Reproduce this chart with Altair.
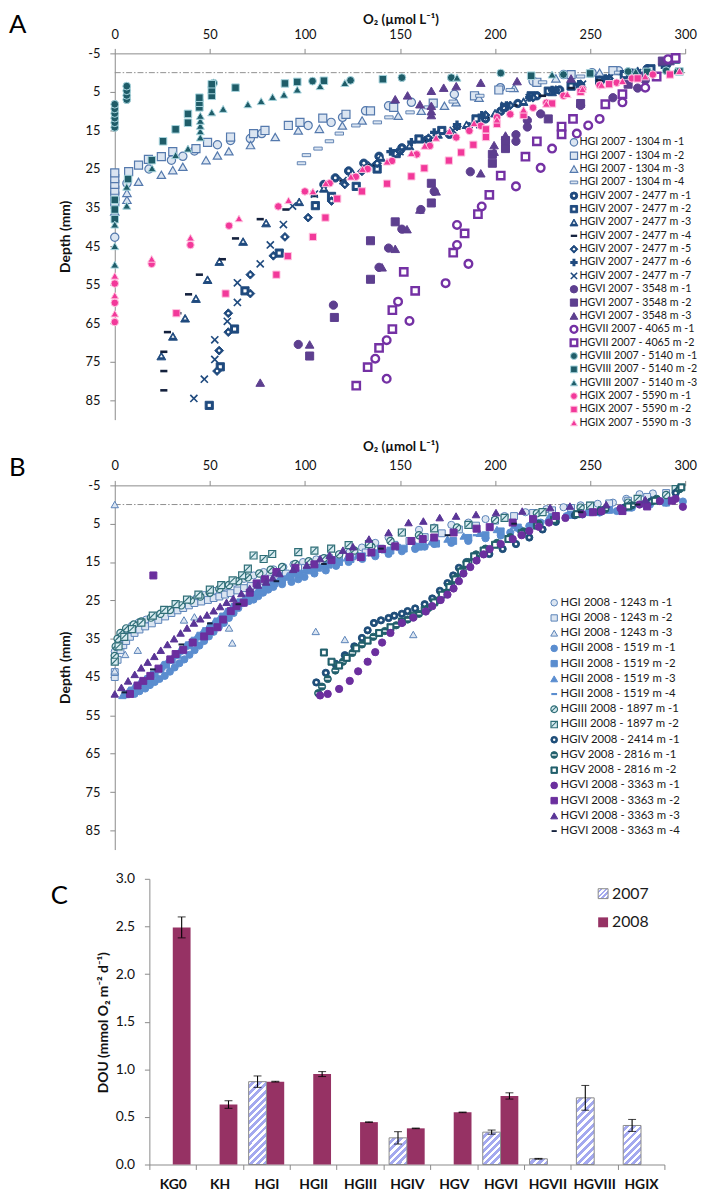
import altair as alt
import pandas as pd

FONT = "Lato"

# ================= Panel A: 2007 oxygen profiles (O2 umol/L, depth mm) =================
a_hgi_1 = [(0, 42.7), (6.4, 28.7), (18, 25.0), (29.8, 22.7), (35.8, 21.7), (41.9, 20.3), (54, 18.7), (60.9, 17.6), (71.3, 17.1), (77.3, 15.8), (101.7, 13.7), (113.8, 12.9), (119.8, 11.6), (131.9, 9.9), (144, 8.6), (156, 7.7), (178.6, 5.6), (202.8, 3.9), (220, 2.2), (236, 0.5), (251, 0.0), (265, -0.5)]
a_hgi_2 = [(0, 33.5), (0, 32.0), (0, 30.5), (0, 29.0), (0, 27.5), (0, 26.0), (7.3, 25.7), (12.5, 24.0), (17.7, 22.5), (24.5, 21.8), (30.5, 20.5), (42.7, 19.7), (48.8, 18.1), (60.9, 16.7), (73, 15.8), (79, 15.0), (91.3, 13.7), (97.4, 12.9), (109.4, 11.8), (121.6, 10.8), (134.5, 9.9), (146.7, 9.0), (167.5, 7.9), (189.2, 6.0), (202, 4.5), (222, 2.5), (240, 0.5), (262, -0.5)]
a_hgi_3 = [(0, 36.0), (6.4, 33.0), (6.4, 31.2), (12.5, 28.3), (24.5, 26.5), (30.5, 25.3), (35.8, 24.4), (48, 22.7), (54, 21.5), (60, 20.4), (71.4, 18.8), (84.4, 16.7), (96.5, 15.0), (107.6, 14.6), (119.7, 13.7), (130.1, 12.4), (149.1, 11.2), (161.2, 9.9), (173.4, 8.6), (179.5, 7.7), (191.6, 6.5), (210, 4.0), (232, 1.5), (255, 0.0)]
a_hgi_4 = [(98.2, 23.5), (100.8, 21.4), (106.9, 19.7), (112.9, 17.8), (118.1, 15.8), (126.8, 13.7), (138.1, 12.9), (144.2, 11.6), (155.3, 10.3), (165, 9.0), (178, 7.5), (192, 6.0), (208, 4.5), (225, 2.5), (245, 1.0), (265, 0.0)]
a_hgiv_1 = [(292, -3.0), (280, -1.0), (268, 0.5), (255, 2.0), (245, 3.5), (234, 4.5), (222, 6.0), (212, 8.0), (203, 10.0), (195, 12.0), (186, 14.0), (176, 16.0), (164, 17.5), (151, 19.5), (139, 21.7), (131, 23.5), (123, 25.5), (116, 27.3), (110, 29.0)]
a_hgiv_2 = [(295, -3.5), (282, -1.0), (268, 0.5), (255, 2.0), (240, 3.5), (228, 4.8), (219, 6.0), (205, 9.0), (190, 12.0), (172, 15.0), (160, 17.2), (148, 21.0), (138, 25.0), (127, 29.5), (114, 32.1), (105.5, 34.5), (86.5, 46.8), (68.5, 56.6), (63, 66.5), (55.5, 76.3), (49.7, 86.3)]
a_hgiv_3 = [(290, -2.5), (275, -0.5), (260, 1.5), (245, 3.0), (230, 5.0), (215, 7.5), (200, 10.5), (185, 13.5), (170, 16.0), (155, 19.0), (140, 22.0), (125, 26.0), (110, 30.0), (97, 33.5), (79.6, 39.0), (67.5, 43.8), (55, 49.0), (48.8, 53.7), (42.7, 58.6), (37, 63.7), (30.6, 68.4), (24.5, 73.5)]
a_hgiv_4 = [(290, -2.0), (270, 0.0), (255, 2.0), (240, 4.0), (225, 6.0), (210, 8.5), (195, 11.5), (180, 14.5), (165, 17.5), (150, 20.5), (135, 24.0), (120, 28.0), (105, 32.0), (90, 35.5), (76.5, 38.0), (63.5, 43.0), (56.6, 48.4), (44.5, 52.4), (38.8, 57.5), (33.2, 62.4), (27.7, 67.3), (25.8, 72.4), (25.8, 77.4), (25.8, 82.4)]
a_hgiv_5 = [(290, -2.0), (275, 0.0), (260, 1.5), (245, 3.0), (232, 4.5), (220, 6.5), (208, 8.5), (195, 11.0), (180, 14.0), (165, 17.0), (150, 20.5), (138, 23.5), (130, 25.6), (121, 29.0), (114, 33.3), (101.7, 37.6), (89.5, 42.6), (83.4, 47.5), (71.3, 52.4), (71.3, 57.3), (59.7, 62.4), (59.7, 67.3), (54.9, 72.1), (53.8, 77.4)]
a_hgiv_6 = [(288, -2.0), (272, 0.0), (258, 1.5), (244, 3.0), (230, 4.5), (218, 6.5), (206, 8.5), (193, 11.0), (180, 13.5), (168, 15.5), (156, 18.0), (145, 20.5)]
a_hgiv_7 = [(290, -2.0), (275, 0.0), (260, 1.5), (246, 3.0), (232, 4.5), (218, 6.5), (205, 8.5), (192, 13.5), (178, 15.0), (165, 17.5), (150, 20.5), (135, 24.0), (120, 28.0), (105, 31.5), (93.5, 34.6), (88.7, 39.4), (81.8, 44.7), (76.5, 49.6), (64.5, 54.5), (64.5, 59.6), (59.2, 64.5), (52.6, 69.3), (52.6, 74.4), (47.1, 79.5), (41.6, 84.5)]
a_hgvi_1 = [(293, -3.5), (279, 2.0), (275, 4.0), (262, 6.5), (245, 8.5), (224, 10.7), (217, 12.4), (217, 14.1), (211, 16.1), (211, 17.8), (187, 25.7), (168, 30.8), (161, 35.5), (151, 40.6), (144, 45.5), (139, 50.5), (115, 60.3), (96.5, 70.5)]
a_hgvi_2 = [(288, -3.0), (270, 3.0), (245, 8.0), (228, 12.0), (205.5, 17.6), (205.5, 19.7), (198.6, 21.2), (198.6, 23.5), (166.5, 28.7), (166.5, 33.8), (147.5, 38.7), (134.5, 43.6), (134.5, 53.6), (115.5, 63.5), (102.5, 73.5)]
a_hgvi_3 = [(292, -3.0), (278, 0.5), (240, 1.5), (211.6, 2.2), (192.5, 2.6), (179.6, 3.5), (173, 3.9), (166.5, 4.7), (154, 5.9), (147.5, 6.9), (160.5, 8.2), (166.5, 8.6), (166.5, 10.0), (166.5, 11.0), (205.5, 16.3), (199.5, 18.8), (199.5, 20.5), (192.5, 26.1), (169, 30.8), (160.5, 35.5), (153.7, 40.6), (147.5, 45.7), (140.6, 50.5), (102.5, 70.5), (76.5, 80.4)]
a_hgvii_1 = [(291, -3.5), (279, 3.9), (267, 7.7), (255, 12.0), (249, 13.7), (243, 15.8), (230, 19.7), (224, 24.7), (211, 29.5), (193, 34.7), (180, 39.5), (180, 44.7), (186, 49.6), (174, 54.6), (149, 59.4), (155, 64.4), (143, 69.4), (137, 74.2), (143, 79.4)]
a_hgvii_2 = [(295, -3.8), (285, 1.0), (267, 5.6), (258, 8.2), (241, 12.0), (235, 14.0), (235, 16.0), (222, 17.8), (216, 21.8), (203, 26.7), (197, 31.7), (191, 36.7), (184, 41.7), (178, 46.7), (152, 51.7), (158, 56.6), (146, 61.6), (146, 66.5), (139, 71.4), (133, 76.4), (127, 81.2)]
a_hgviii_1 = [(0, 14.2), (0, 13.0), (0, 11.8), (0, 10.6), (0, 9.4), (0, 8.2), (6.3, 7.0), (6.3, 5.9), (6.3, 4.7), (6.3, 3.5), (52, 2.7), (104, 2.2), (124, 2.0), (151, 1.3), (177, 1.3), (203, 0.1), (236, 0.5), (250, 0.3), (270, -0.3), (290, -0.5)]
a_hgviii_2 = [(0, 38.0), (0, 35.5), (0, 33.0), (7, 27.6), (19.5, 22.7), (25.4, 17.8), (32, 14.7), (38.5, 13.0), (38.5, 10.7), (44.5, 9.0), (44.5, 7.8), (44.5, 6.5), (51, 6.0), (51, 4.5), (51, 3.0), (63.5, 3.9), (89.5, 2.8), (96, 2.4), (110, 2.1), (141, 1.7), (219, 0.8), (250, 0.2), (280, -0.2), (297, -0.3)]
a_hgviii_3 = [(0, 49.8), (0, 45.0), (0, 39.4), (6.3, 34.5), (6.3, 29.6), (19.6, 24.8), (32, 21.4), (38.5, 19.7), (45, 16.8), (45, 15.2), (45, 13.8), (45, 12.5), (45, 11.2), (51, 10.3), (57, 9.4), (70, 8.2), (77, 7.4), (83, 6.3), (89, 5.7), (96, 4.4), (108, 3.5), (121, 2.7), (180, 1.3), (230, 0.5), (274, -0.3), (295, -0.4)]
a_hgix_1 = [(0, 64.7), (0, 59.7), (0, 54.7), (19.4, 49.6), (39.8, 44.7), (60.1, 39.7), (86, 34.7), (100, 30.8), (113, 28.7), (126.8, 27.0), (133, 25.0), (145.8, 22.9), (158.8, 21.2), (165.7, 19.0), (179.6, 16.8), (186.5, 15.1), (192.5, 13.8), (201, 11.6), (208, 10.8), (220, 9.1), (227, 7.8), (236, 6.0), (246, 4.3), (255, 3.3), (264, 2.6), (272, 1.5), (283, 0.5)]
a_hgix_2 = [(32.4, 62.4), (58.3, 57.3), (85, 52.4), (91, 47.6), (104.2, 42.6), (110.8, 37.6), (117, 32.7), (130, 30.8), (143.2, 28.8), (156, 26.9), (162.8, 24.8), (175.7, 22.8), (182.2, 20.7), (188.6, 18.7), (195.2, 16.7), (195.2, 14.7), (201, 13.3), (215, 11.0), (230, 8.0), (245, 5.0), (260, 3.0), (275, 1.5), (292, 0.5)]
a_hgix_3 = [(0, 62.5), (0, 57.8), (0, 52.7), (19.4, 48.3), (39.8, 42.8), (65.3, 37.8), (91.4, 33.1), (104.2, 30.8), (111, 28.7), (124.2, 27.0), (130.3, 25.0), (143.2, 23.1), (156, 20.9), (163, 19.0), (169, 16.9), (176, 15.2), (189, 13.1), (201, 12.2), (215, 9.6), (227, 8.1), (238, 5.6), (246, 4.3), (256, 3.2), (267, 2.2), (279, 1.0), (297, -0.4)]

A_NAMES = [
    "HGI 2007 - 1304 m -1", "HGI 2007 - 1304 m -2", "HGI 2007 - 1304 m -3", "HGI 2007 - 1304 m -4",
    "HGIV 2007 - 2477 m -1", "HGIV 2007 - 2477 m -2", "HGIV 2007 - 2477 m -3", "HGIV 2007 - 2477 m -4",
    "HGIV 2007 - 2477 m -5", "HGIV 2007 - 2477 m -6", "HGIV 2007 - 2477 m -7",
    "HGVI 2007 - 3548 m -1", "HGVI 2007 - 3548 m -2", "HGVI 2007 - 3548 m -3",
    "HGVII 2007 - 4065 m -1", "HGVII 2007 - 4065 m -2",
    "HGVIII 2007 - 5140 m -1", "HGVIII 2007 - 5140 m -2", "HGVIII 2007 - 5140 m -3",
    "HGIX 2007 - 5590 m -1", "HGIX 2007 - 5590 m -2", "HGIX 2007 - 5590 m -3",
]
A_SERIES = [a_hgi_1, a_hgi_2, a_hgi_3, a_hgi_4, a_hgiv_1, a_hgiv_2, a_hgiv_3, a_hgiv_4, a_hgiv_5,
            a_hgiv_6, a_hgiv_7, a_hgvi_1, a_hgvi_2, a_hgvi_3, a_hgvii_1, a_hgvii_2, a_hgviii_1,
            a_hgviii_2, a_hgviii_3, a_hgix_1, a_hgix_2, a_hgix_3]

# ================= Panel B: 2008 oxygen profiles =================
b_hgi_1 = [(0, 40.4), (0, 39.3), (0, 38.3), (1, 37.2), (2, 36.0), (3, 35.0), (4, 34.0), (6, 32.6), (9, 31.6), (12.5, 30.8), (16.5, 30.0), (21, 29.2), (25.5, 28.4), (29.8, 27.5), (34, 26.4), (38.5, 25.3), (43, 24.4), (47.1, 23.6), (52, 22.5), (57.5, 21.5), (63, 20.4), (68, 19.4), (73, 18.5), (78.3, 17.6), (83.5, 16.9), (88.7, 16.3), (94, 15.6), (99, 15.0), (106, 14.3), (113, 13.7), (118, 13.0), (123.5, 12.4), (130, 11.2), (137, 10.0), (144, 8.6), (151, 7.3), (160, 6.6), (168, 6.0), (177, 5.3), (186, 4.7), (195, 3.8), (205, 3.0), (216, 2.0), (227, 1.2), (236, 0.7), (245, 0.2), (254, -0.2), (262, -0.5), (269, -1.5), (276, -2.7), (283, -2.9)]
b_hgi_2 = [(0, 45.0), (0, 43.7), (1.5, 40.5), (3, 38.0), (4.5, 36.7), (6, 35.6), (8, 34.5), (10.4, 33.5), (13, 32.6), (16, 31.8), (19.5, 31.0), (22.9, 30.1), (26.5, 29.2), (29.8, 28.3), (33, 27.6), (36, 27.0), (39, 26.3), (41.9, 25.7), (45.5, 25.3), (49, 24.9), (52, 24.4), (55, 24.0), (58, 23.5), (60.9, 23.1), (64.5, 22.4), (68, 21.8), (71.5, 21.2), (74.8, 20.6), (78.5, 19.9), (82, 19.3), (86, 18.6), (90, 18.0), (95, 17.2), (100, 16.5), (106, 15.7), (112, 15.0), (118, 14.2), (125, 13.5), (132, 12.5), (140, 11.5), (147, 10.5), (155, 9.5), (163, 8.5), (172, 7.5), (181, 6.5), (190, 5.5), (200, 4.2), (210, 3.0), (220, 2.2), (230, 1.5), (240, 0.9), (250, 0.3), (260, -0.3), (270, -1.0), (280, -2.0), (290, -3.0)]
b_hgi_3 = [(0, 0.0), (0, 43.4), (5.5, 39.1), (12.1, 38.0), (36.4, 30.1), (41.9, 29.3), (60.1, 32.2), (61.8, 36.1), (105.7, 33.1), (121, 35.2), (157, 33.9)]
b_hgii_1 = [(10.4, 49.4), (13, 48.7), (16, 48.0), (18.5, 47.1), (21, 46.3), (23.5, 45.5), (26.3, 44.7), (29, 43.6), (31.5, 42.5), (34, 41.4), (36.6, 40.4), (39.3, 39.2), (42, 38.0), (44.5, 36.8), (47, 35.6), (49.5, 34.4), (52, 33.2), (54.7, 32.0), (57.4, 30.9), (60, 29.6), (62.5, 28.3), (65, 27.0), (67.8, 25.7), (70.5, 25.2), (73, 24.8), (75.5, 23.9), (78, 23.0), (80.7, 22.2), (83.4, 21.5), (88, 20.8), (92.9, 20.2), (96.5, 19.5), (99.8, 18.9), (105, 18.0), (111, 17.2), (116.4, 16.0), (123, 15.0), (130.2, 14.2), (137, 13.5), (144, 12.9), (151, 12.2), (158, 11.6), (163, 11.0), (168, 10.3), (177, 10.0), (185.9, 9.5), (195, 8.8), (203, 8.1), (208, 7.3), (213, 6.5), (218, 5.6), (224, 4.7), (231, 3.8), (237.6, 3.0), (246, 2.6), (255, 2.1), (264, 1.7), (272, 0.8), (281.5, 0.0), (290, -0.5), (298.8, -0.8)]
b_hgii_2 = [(6, 49.5), (9, 48.5), (12, 47.5), (15, 46.5), (18, 45.5), (21, 44.3), (24, 43.0), (27, 41.8), (30, 40.5), (33, 39.2), (36, 38.0), (39, 36.7), (42, 35.5), (45, 34.2), (48, 33.0), (51, 31.7), (54, 30.5), (57, 29.2), (60, 28.0), (63, 26.7), (66, 25.5), (69.5, 24.5), (73, 23.5), (76.5, 22.5), (80, 21.5), (84, 20.5), (88, 19.5), (92.5, 18.7), (97, 18.0), (102, 17.2), (107, 16.5), (112.5, 15.7), (118, 15.0), (124, 14.2), (130, 13.5), (137, 12.7), (145, 12.0), (152, 11.5), (160, 11.0), (169, 10.2), (178, 9.5), (186, 8.7), (195, 8.0), (203, 7.0), (212, 6.0), (221, 4.7), (230, 3.5), (240, 2.7), (250, 2.0), (260, 1.4), (270, 0.8), (280, 0.2), (290, -0.5)]
b_hgii_3 = [(4, 49.8), (7, 48.7), (10, 47.6), (13, 46.5), (16, 45.4), (19, 44.2), (22, 43.0), (25, 41.8), (28, 40.6), (31, 39.4), (34, 38.2), (37, 36.9), (40, 35.7), (43, 34.5), (46, 33.3), (49, 32.0), (52, 30.8), (55, 29.6), (58, 28.4), (61, 27.2), (64, 26.0), (67.5, 24.9), (71, 23.8), (74.5, 22.8), (78, 21.8), (82, 20.8), (86, 19.8), (90.5, 18.9), (95, 18.0), (100, 17.1), (105, 16.3), (110.5, 15.5), (116, 14.7), (122, 13.9), (128, 13.2), (135, 12.5), (142, 11.8), (150, 11.1), (158, 10.5), (166.5, 9.7), (175, 9.0), (183.5, 8.2), (192, 7.5), (201, 6.5), (210, 5.5), (219, 4.5), (228, 3.5), (238, 2.7), (248, 2.0), (258, 1.2), (268, 0.5), (278, -0.2), (288, -1.0)]
b_hgii_4 = [(10, 49.0), (25, 43.0), (40, 36.0), (55, 30.0), (70, 24.5), (90, 19.5), (110, 16.5), (135, 13.0), (160, 10.5), (190, 8.0), (220, 5.0), (250, 2.0), (280, 0.0)]
b_hgiii_1 = [(0, 39.5), (0.5, 37.0), (1.5, 35.0), (3, 33.5), (6, 32.3), (10, 31.3), (14, 30.5), (19, 29.5), (24, 28.5), (29, 27.5), (35, 26.3), (40, 25.0), (45, 24.0), (50, 23.0), (55, 22.0), (60, 21.0), (65, 20.0), (70, 19.0), (76, 18.0), (82, 17.0), (88, 16.3), (95, 15.5), (102, 14.8), (110, 14.0), (118, 13.0), (126, 12.0), (135, 11.0), (145, 9.5), (160, 8.0), (180, 6.0), (200, 4.0), (222, 2.3), (245, 0.8), (270, -0.5), (290, -2.5)]
b_hgiii_2 = [(0, 41.0), (2, 37.0), (5, 34.5), (9, 32.5), (14, 30.8), (20, 29.0), (26, 27.5), (32, 26.0), (38, 24.8), (44, 23.5), (50, 22.2), (56, 21.0), (62, 19.8), (67, 18.5), (70, 16.7), (73, 13.3), (78.3, 14.2), (82.8, 12.9), (96.5, 12.4), (105, 12.0), (113.8, 11.5), (123, 10.6), (133.7, 10.3), (151, 7.3), (168, 6.2), (186, 5.3), (205, 3.5), (225, 2.0), (250, 0.3), (275, -1.5), (295, -4.0)]
b_hgiv_1 = [(106, 46.4), (111, 43.9), (116, 41.5), (121, 39.3), (126, 37.0), (130, 34.8), (133, 32.8), (136.3, 30.9), (140, 30.2), (144, 29.6), (147, 29.0), (151, 28.5), (154, 27.8), (158, 27.1), (163, 26.0), (167, 24.5), (171, 22.5), (175, 20.5), (178, 18.5), (181, 16.5), (185, 15.0), (190, 14.0), (197, 12.9), (204, 11.6), (211, 10.3), (218, 8.6), (225, 6.5), (232, 4.5), (242, 2.8), (255, 1.8), (268, 0.8), (282, -0.8), (295, -3.0)]
b_hgv_1 = [(107, 49.2), (109, 47.5), (112, 45.5), (116, 43.3), (120, 41.0), (125, 38.7), (130, 36.5), (136, 34.5), (142, 33.0), (148, 31.5), (154, 30.0), (160, 28.5), (165, 27.0), (170, 25.0), (174, 23.0), (177, 21.0), (180, 19.0), (183, 17.0), (186, 15.0), (190, 13.0), (195, 11.5), (201, 10.0), (208, 8.5), (215, 7.0), (223, 5.0), (232, 3.5), (245, 2.2), (258, 1.2), (272, 0.2), (285, -1.5), (297, -4.0)]
b_hgv_2 = [(110, 38.6), (114, 41.0), (118, 42.0), (122, 40.0), (127, 37.5), (133, 35.5), (139, 33.5), (145, 32.0), (151, 30.5), (157, 29.0), (163, 27.5), (168, 25.5), (172, 23.5), (176, 21.5), (179, 19.5), (182, 17.5), (185, 15.5), (189, 13.5), (194, 12.0), (200, 10.5), (207, 9.0), (214, 7.5), (222, 5.5), (231, 4.0), (243, 2.5), (256, 1.5), (270, 0.5), (284, -1.0), (298, -4.5)]
b_hgvi_1 = [(108, 49.8), (112, 49.4), (118, 48.1), (123.6, 46.0), (128, 43.5), (133, 41.0), (137, 38.5), (140.6, 36.0), (145, 33.5), (151, 30.9), (157, 29.5), (163.6, 27.9), (167, 26.5), (171.4, 24.9), (175, 23.5), (178.2, 21.9), (181, 20.0), (183.4, 18.0), (187, 16.3), (190.3, 14.6), (194, 13.0), (197.2, 11.6), (203, 10.3), (209.3, 9.0), (214, 8.0), (218, 6.9), (223, 5.8), (228.4, 4.7), (237, 3.5), (246, 2.5), (256, 1.8), (266, 1.0), (276, 0.0), (286.7, -0.9), (295, -1.5), (298.8, 0.6)]
b_hgvi_2 = [(20.3, 18.5), (8, 49.4), (12, 47.2), (15, 46.0), (18.7, 44.7), (23, 42.8), (29.2, 40.4), (32, 39.0), (36, 37.9), (41, 36.0), (47, 34.4), (50, 33.0), (54, 32.0), (57, 30.0), (61, 27.8), (64, 26.5), (67.8, 25.6), (71, 23.0), (74.6, 20.6), (79, 19.5), (85, 17.6), (95, 16.5), (105, 15.6), (114, 14.5), (123.5, 13.7), (129.4, 13.7), (135, 12.5), (140.6, 11.6), (147.5, 10.9), (156, 9.5), (162, 9.0), (168, 8.6), (178.2, 7.3), (190.3, 6.3), (197.2, 5.9), (209.3, 4.7), (220, 3.8), (232, 3.0), (251.5, 2.0), (267, 1.7), (280, 0.5), (293, -1.0)]
b_hgvi_3 = [(0, 49.4), (3.5, 47.7), (7, 46.0), (10.5, 44.3), (13.9, 42.6), (17.3, 41.1), (20.8, 39.6), (24.2, 38.0), (27.7, 36.5), (31.2, 35.0), (34.6, 33.5), (38, 32.2), (41.6, 30.9), (45, 29.8), (48.5, 28.8), (52, 27.7), (55.4, 26.6), (58.8, 25.5), (62.3, 24.5), (66.6, 23.2), (71, 21.9), (75.3, 21.0), (79.6, 20.2), (83, 19.1), (86.6, 18.0), (93.8, 16.9), (101, 15.8), (108, 14.1), (113, 13.2), (120, 11.9), (125.3, 11.0), (133.7, 9.0), (144, 7.3), (154.5, 4.7), (162.3, 4.3), (170.9, 3.4), (179.5, 3.0), (190, 2.6), (200.5, 2.1), (214.3, 1.7), (229, 0.8), (239.4, 0.4), (258.5, 0.0), (279, -1.3)]
b_hgvi_4 = [(5, 49.0), (20, 43.0), (35, 36.5), (50, 31.0), (65, 26.0), (85, 20.0), (110, 15.5), (140, 11.5), (175, 8.0), (210, 5.0), (245, 2.0), (275, 0.0)]

B_NAMES = [
    "HGI 2008 - 1243 m -1", "HGI 2008 - 1243 m -2", "HGI 2008 - 1243 m -3",
    "HGII 2008 - 1519 m -1", "HGII 2008 - 1519 m -2", "HGII 2008 - 1519 m -3", "HGII 2008 - 1519 m -4",
    "HGIII 2008 - 1897 m -1", "HGIII 2008 - 1897 m -2",
    "HGIV 2008 - 2414 m -1",
    "HGV 2008 - 2816 m -1", "HGV 2008 - 2816 m -2",
    "HGVI 2008 - 3363 m -1", "HGVI 2008 - 3363 m -2", "HGVI 2008 - 3363 m -3", "HGVI 2008 - 3363 m -4",
]
B_SERIES = [b_hgi_1, b_hgi_2, b_hgi_3, b_hgii_1, b_hgii_2, b_hgii_3, b_hgii_4, b_hgiii_1, b_hgiii_2,
            b_hgiv_1, b_hgv_1, b_hgv_2, b_hgvi_1, b_hgvi_2, b_hgvi_3, b_hgvi_4]

# ================= Panel C: diffusive oxygen uptake =================
CATS = ["KG0", "KH", "HGI", "HGII", "HGIII", "HGIV", "HGV", "HGVI", "HGVII", "HGVIII", "HGIX"]
DOU_2007 = [None, None, 0.87, None, None, 0.28, None, 0.34, 0.06, 0.70, 0.41]
ERR_2007 = [None, None, 0.06, None, None, 0.065, None, 0.022, 0.004, 0.13, 0.063]
DOU_2008 = [2.49, 0.63, 0.87, 0.95, 0.445, 0.38, 0.548, 0.72, None, None, None]
ERR_2008 = [0.11, 0.04, 0.004, 0.026, 0.003, 0.003, 0.003, 0.033, None, None, None]
YEARS = ["2007", "2008"]

# ================= styles =================
DASH = "M-1,-0.36L1,-0.36L1,0.36L-1,0.36Z"
XSHP = "M-1,-0.72L-0.72,-1L0,-0.28L0.72,-1L1,-0.72L0.28,0L1,0.72L0.72,1L0,0.28L-0.72,1L-1,0.72L-0.28,0Z"
HATCH = "M-0.95,0.55L0.55,-0.95L0.78,-0.72L-0.72,0.78Z"
BAND = "M-1,-0.28L1,-0.28L1,0.28L-1,0.28Z"

LIGHT, EDGE = "#dbe5f1", "#5479ad"
NAVY, DARK = "#1f4a7e", "#14213d"
PURP, VIOL = "#5d3f8f", "#7431a4"
TEAL, TEAL_E = "#1f5d69", "#a7d4de"
PINK, PINK_E = "#f2399a", "#ffc4e1"
EDGE2, STEEL = "#5a83b8", "#5a8dcf"
HFILL, HTEAL = "#d9ecf1", "#2f6e77"
NAVY2, TEAL2 = "#1f4e79", "#22606c"
PURP2, PURP2T = "#6b2f9e", "#5a3597"
MAROON, STRIPE, BAREDGE = "#963264", "#a4a9ef", "#8a8a8a"
AXC = "#8a8a8a"


def sty(shape, fill, stroke, size, sw, inner=None):
    return {"shape": shape, "fill": fill, "stroke": stroke, "size": size, "sw": sw, "inner": inner}


STYLE = dict(zip(A_NAMES, [
    sty("circle", LIGHT, EDGE, 70, 1.2), sty("square", LIGHT, EDGE, 66, 1.2),
    sty("triangle-up", LIGHT, EDGE, 72, 1.2), sty(DASH, LIGHT, EDGE, 72, 0.9),
    sty("circle", NAVY, NAVY, 72, 1, ("circle", "white", 8)),
    sty("square", NAVY, NAVY, 68, 1, ("square", "white", 10)),
    sty("triangle-up", NAVY, NAVY, 80, 1, ("triangle-up", "white", 10)),
    sty(DASH, DARK, DARK, 52, 0),
    sty("diamond", NAVY, NAVY, 80, 1, ("circle", "white", 7)),
    sty("cross", NAVY, NAVY, 70, 0), sty(XSHP, NAVY, NAVY, 70, 0),
    sty("circle", PURP, PURP, 70, 1), sty("square", PURP, PURP, 66, 1), sty("triangle-up", PURP, PURP, 76, 1),
    sty("circle", "white", VIOL, 60, 2.4), sty("square", "white", VIOL, 56, 2.4),
    sty("circle", TEAL, TEAL_E, 62, 1), sty("square", TEAL, TEAL_E, 58, 1), sty("triangle-up", TEAL, TEAL_E, 66, 1),
    sty("circle", PINK, PINK_E, 58, 1), sty("square", PINK, PINK_E, 54, 1), sty("triangle-up", PINK, PINK_E, 62, 1),
]))
STYLE.update(dict(zip(B_NAMES, [
    sty("circle", LIGHT, EDGE2, 52, 1), sty("square", LIGHT, EDGE2, 48, 1), sty("triangle-up", LIGHT, EDGE2, 56, 1),
    sty("circle", STEEL, STEEL, 52, 1), sty("square", STEEL, STEEL, 48, 1), sty("triangle-up", STEEL, STEEL, 56, 1),
    sty(DASH, STEEL, STEEL, 40, 0),
    sty("circle", HFILL, HTEAL, 54, 1.2, (HATCH, HTEAL, 52)),
    sty("square", HFILL, HTEAL, 50, 1.2, (HATCH, HTEAL, 48)),
    sty("circle", NAVY2, NAVY2, 54, 1, ("circle", "white", 7)),
    sty("circle", TEAL2, TEAL2, 54, 1, (BAND, "white", 26)),
    sty("square", TEAL2, TEAL2, 50, 1, ("square", "white", 14)),
    sty("circle", PURP2, PURP2, 54, 1), sty("square", PURP2, PURP2, 50, 1),
    sty("triangle-up", PURP2T, PURP2T, 58, 1), sty(DASH, DARK, DARK, 32, 0),
])))


def frame(names, series):
    rows = []
    for nm, pts in zip(names, series):
        for o2, d in pts:
            rows.append({"series": nm, "o2": o2, "depth": d})
    return pd.DataFrame(rows)


dfA = frame(A_NAMES, A_SERIES)
dfB = frame(B_NAMES, B_SERIES)
zero_line = pd.DataFrame({"o2_from": [0], "o2_to": [300], "depth": [0]})


def symbol_marks(base, s, scale=1.0):
    out = [base.mark_point(shape=s["shape"], filled=True, fill=s["fill"], stroke=s["stroke"],
                           strokeWidth=s["sw"], size=s["size"] * scale, opacity=1)]
    if s["inner"]:
        ish, ifill, isz = s["inner"]
        out.append(base.mark_point(shape=ish, filled=True, fill=ifill, strokeWidth=0, size=isz * scale, opacity=1))
    return out


def scatter(df, names, xsc, ysc):
    layers = []
    for nm in names:
        base = alt.Chart(df).transform_filter(alt.datum.series == nm).encode(
            x=alt.X("o2:Q", scale=xsc, axis=None), y=alt.Y("depth:Q", scale=ysc, axis=None))
        layers += symbol_marks(base, STYLE[nm])
    return layers


def legend(names, sx, tx, y0, y1, fsize, sscale):
    ldf = pd.DataFrame({"label": names})
    ysc = alt.Scale(type="point", domain=names, range=[y0, y1], padding=0)
    layers = []
    for nm in names:
        base = alt.Chart(ldf).transform_filter(alt.datum.label == nm).encode(
            x=alt.value(sx), y=alt.Y("label:N", scale=ysc, axis=None))
        layers += symbol_marks(base, STYLE[nm], sscale)
    layers.append(alt.Chart(ldf).mark_text(align="left", baseline="middle", fontSize=fsize, font=FONT,
                                           color="#1a1a1a").encode(
        x=alt.value(tx), y=alt.Y("label:N", scale=ysc, axis=None), text="label:N"))
    return layers


def depth_axis(title_y):
    return alt.Axis(orient="left", offset=-108, values=list(range(-5, 90, 10)), labelExpr="'' + datum.value",
                    tickSize=5, labelPadding=10, labelFontSize=13, title="Depth (mm)", titleFontSize=14,
                    titleFontWeight="bold", titleX=-50, titleY=title_y, titleAngle=270, titleAlign="center",
                    titleBaseline="middle", grid=False, labelOverlap=False)


def o2_axis(offset, title_y, pad):
    return alt.Axis(orient="top", offset=offset, values=[0, 50, 100, 150, 200, 250, 300], tickSize=5,
                    labelPadding=pad, labelFontSize=13, labelFlush=False, labelOverlap=False,
                    title="O₂ (µmol L⁻¹)", titleFontSize=13.5, titleFontWeight="bold", titleX=397,
                    titleY=title_y, titleAlign="center", titleBaseline="middle", grid=False)


def axes_rule(xsc, ysc, xaxis, yaxis):
    return alt.Chart(zero_line).mark_rule(color="#8f8f8f", strokeWidth=1, strokeDash=[6, 2, 1.5, 2]).encode(
        x=alt.X("o2_from:Q", scale=xsc, axis=xaxis), x2="o2_to:Q",
        y=alt.Y("depth:Q", scale=ysc, axis=yaxis))


layers = []

# ---- panel A ----
xA = alt.Scale(domain=[0, 300], range=[108, 685], nice=False, zero=False)
yA = alt.Scale(domain=[-5, 90], range=[39, 409.5], nice=False, zero=False)
layers.append(axes_rule(xA, yA, o2_axis(-39, -34, 7), depth_axis(224)))
layers += scatter(dfA, A_NAMES, xA, yA)
layers += legend(A_NAMES, 572.5, 578, 129, 412.7, 10.8, 0.8)

# ---- panel B ----
xB = alt.Scale(domain=[0, 300], range=[108, 685], nice=False, zero=False)
yB = alt.Scale(domain=[-5, 90], range=[476, 844.4], nice=False, zero=False)
layers.append(axes_rule(xB, yB, o2_axis(-476, -39, 8), depth_axis(660)))
layers += scatter(dfB, B_NAMES, xB, yB)
layers += legend(B_NAMES, 552.5, 559, 594.7, 825.7, 11.5, 0.85)

# ---- panel C ----
rows = []
for i, c in enumerate(CATS):
    for yr, vals, errs in (("2007", DOU_2007, ERR_2007), ("2008", DOU_2008, ERR_2008)):
        if vals[i] is None:
            continue
        rows.append({"cat": c, "year": yr, "dou": vals[i], "lo": vals[i] - errs[i], "hi": vals[i] + errs[i]})
cdf = pd.DataFrame(rows)

xC = alt.Scale(domain=CATS, range=[143, 664], paddingInner=0, paddingOuter=0)
xoC = alt.Scale(domain=YEARS, paddingInner=0, paddingOuter=0.316)
yC = alt.Scale(domain=[0, 3], range=[1163, 874], nice=False, zero=False)
PX_PER_UNIT = (1163 - 874) / 3.0

axis_cx = alt.Axis(orient="bottom", offset=-29, tickBand="extent", tickSize=5, labelPadding=8,
                   labelFontSize=14, labelFontWeight="bold", labelAngle=0, title=None, grid=False,
                   labelOverlap=False)
axis_cy = alt.Axis(orient="left", offset=-143, values=[0, 0.5, 1.0, 1.5, 2.0, 2.5, 3.0], format=".1f",
                   tickSize=5, labelPadding=10, labelFontSize=14, title="DOU (mmol O₂ m⁻² d⁻¹)",
                   titleFontSize=14, titleFontWeight="bold", titleX=-46, titleY=1019, titleAngle=270,
                   titleAlign="center", titleBaseline="middle", grid=False)


def stripes(h_px, w_px=18.0, period=7.5):
    s = (w_px + h_px) / (w_px ** 2 + h_px ** 2)
    n = max(2, int(round((w_px + h_px) / period)))
    stops = []
    for k in range(n):
        a, b, c = k / n, (k + 0.45) / n, (k + 1) / n
        stops += [{"offset": a, "color": "white"}, {"offset": b, "color": "white"},
                  {"offset": b, "color": STRIPE}, {"offset": c, "color": STRIPE}]
    return {"gradient": "linear", "x1": 0, "y1": 0, "x2": s * w_px, "y2": s * h_px, "stops": stops}


def cx(axis=None):
    return alt.X("cat:N", scale=xC, axis=axis)


def cxo():
    return alt.XOffset("year:N", scale=xoC)


layers.append(alt.Chart(cdf).transform_filter(alt.datum.year == "2008").mark_bar(fill=MAROON, opacity=1).encode(
    x=cx(axis_cx), xOffset=cxo(), y=alt.Y("dou:Q", scale=yC, axis=axis_cy)))
for i, c in enumerate(CATS):
    v = DOU_2007[i]
    if v is None:
        continue
    layers.append(alt.Chart(cdf).transform_filter((alt.datum.year == "2007") & (alt.datum.cat == c)).mark_bar(
        fill=stripes(v * PX_PER_UNIT), stroke=BAREDGE, strokeWidth=1, opacity=1).encode(
        x=cx(), xOffset=cxo(), y=alt.Y("dou:Q", scale=yC, axis=None)))
layers.append(alt.Chart(cdf).mark_rule(color="black", strokeWidth=1.1).encode(
    x=cx(), xOffset=cxo(), y=alt.Y("lo:Q", scale=yC, axis=None), y2="hi:Q"))
for fld in ("lo", "hi"):
    layers.append(alt.Chart(cdf).mark_tick(color="black", thickness=1.1, size=8, orient="horizontal").encode(
        x=cx(), xOffset=cxo(), y=alt.Y(f"{fld}:Q", scale=yC, axis=None)))

# legend C
ldfC = pd.DataFrame({"label": YEARS})
ylC = alt.Scale(type="point", domain=YEARS, range=[889, 918], padding=0)
layers.append(alt.Chart(ldfC).transform_filter(alt.datum.label == "2007").mark_point(
    shape="square", filled=True, fill=stripes(10, 10, 5), stroke=BAREDGE, strokeWidth=1, size=100, opacity=1).encode(
    x=alt.value(602), y=alt.Y("label:N", scale=ylC, axis=None)))
layers.append(alt.Chart(ldfC).transform_filter(alt.datum.label == "2008").mark_point(
    shape="square", filled=True, fill=MAROON, strokeWidth=0, size=100, opacity=1).encode(
    x=alt.value(602), y=alt.Y("label:N", scale=ylC, axis=None)))
layers.append(alt.Chart(ldfC).mark_text(align="left", baseline="middle", fontSize=16, font=FONT, color="#1a1a1a").encode(
    x=alt.value(611), y=alt.Y("label:N", scale=ylC, axis=None), text="label:N"))

# panel letters
letters = pd.DataFrame({"p": ["A", "B", "C"]})
for p, lx, ly, al in (("A", 1, 10, "left"), ("B", 1, 459, "left"), ("C", 52, 891, "center")):
    layers.append(alt.Chart(letters).transform_filter(alt.datum.p == p).mark_text(
        fontSize=26, font=FONT, align=al, baseline="middle", color="black").encode(
        x=alt.value(lx), y=alt.value(ly), text="p:N"))

chart = (
    alt.layer(*layers)
    .resolve_scale(x="independent", y="independent", xOffset="independent")
    .properties(width=700, height=1192, autosize=alt.AutoSizeParams(type="none"), padding=0)
    .configure_view(stroke=None)
    .configure_axis(labelFont=FONT, titleFont=FONT, labelColor="#111111", titleColor="#111111",
                    domainColor=AXC, tickColor=AXC, grid=False)
    .configure_text(font=FONT)
)
chart.save("out.html", embed_options={"renderer": "svg", "actions": False})
